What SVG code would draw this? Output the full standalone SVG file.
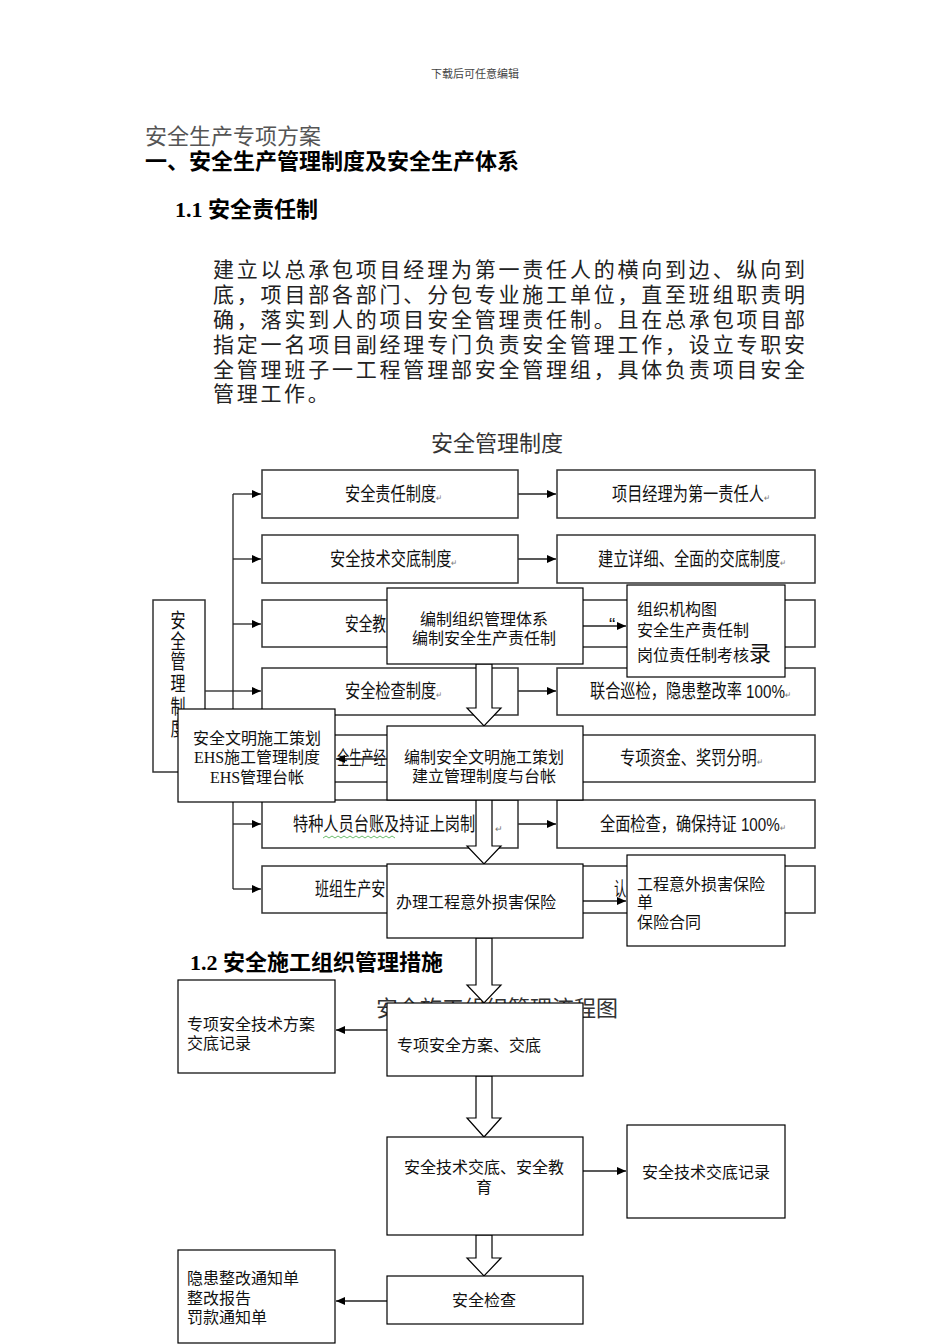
<svg xmlns="http://www.w3.org/2000/svg" width="950" height="1344" viewBox="0 0 950 1344">
<defs>
<style>
.bg{fill:#fff;stroke:#333;stroke-width:1.5}
.ov{fill:#fff;stroke:#000;stroke-width:1.2}
.ln{stroke:#222;stroke-width:1.3;fill:none}
.blk{fill:#fff;stroke:#000;stroke-width:1.2}
.cn{font-family:"Liberation Sans","Noto Sans CJK SC",sans-serif;font-size:19px;fill:#111}
.rt{font-family:"Liberation Sans",sans-serif;font-size:9px;fill:#777}
.sf{font-family:"Liberation Serif","Noto Sans CJK SC",serif;font-size:16px;fill:#111}
.hd{font-family:"Liberation Serif","Noto Sans CJK SC",serif;font-size:22px;fill:#000}
.pg{font-family:"Liberation Serif","Noto Sans CJK SC",serif;font-size:21px;fill:#222}
</style>
<marker id="ah" markerWidth="10" markerHeight="10" refX="9" refY="5" orient="auto" markerUnits="userSpaceOnUse"><path d="M0,1 L9,5 L0,9 z" fill="#000"/></marker>
</defs>
<rect width="950" height="1344" fill="#fff"/>

<g id="page-text">
<text x="475" y="78" text-anchor="middle" style="font-family:'Liberation Serif','Noto Sans CJK SC',serif;font-size:11px;fill:#444">下载后可任意编辑</text>
<text class="hd" x="145" y="144" style="fill:#555">安全生产专项方案</text>
<text class="hd" x="145" y="169" font-weight="bold">一、安全生产管理制度及安全生产体系</text>
<text class="hd" x="175" y="217" font-weight="bold">1.1 安全责任制</text>
<text class="pg" x="213" y="277" textLength="592" lengthAdjust="spacing">建立以总承包项目经理为第一责任人的横向到边、纵向到</text>
<text class="pg" x="213" y="302" textLength="592" lengthAdjust="spacing">底，项目部各部门、分包专业施工单位，直至班组职责明</text>
<text class="pg" x="213" y="327" textLength="592" lengthAdjust="spacing">确，落实到人的项目安全管理责任制。且在总承包项目部</text>
<text class="pg" x="213" y="352" textLength="592" lengthAdjust="spacing">指定一名项目副经理专门负责安全管理工作，设立专职安</text>
<text class="pg" x="213" y="377" textLength="592" lengthAdjust="spacing">全管理班子一工程管理部安全管理组，具体负责项目安全</text>
<text class="pg" x="213" y="401" letter-spacing="2.7">管理工作。</text>
<text class="hd" x="497" y="451" text-anchor="middle" style="fill:#333">安全管理制度</text>
</g>

<g id="connectors-bg">
<line class="ln" x1="233" y1="494" x2="233" y2="889"/>
<line class="ln" x1="205" y1="691" x2="233" y2="691"/>
<line class="ln" x1="233" y1="494" x2="261" y2="494" marker-end="url(#ah)"/>
<line class="ln" x1="233" y1="559" x2="261" y2="559" marker-end="url(#ah)"/>
<line class="ln" x1="233" y1="624" x2="261" y2="624" marker-end="url(#ah)"/>
<line class="ln" x1="233" y1="691" x2="261" y2="691" marker-end="url(#ah)"/>
<line class="ln" x1="233" y1="758" x2="261" y2="758" marker-end="url(#ah)"/>
<line class="ln" x1="233" y1="824" x2="261" y2="824" marker-end="url(#ah)"/>
<line class="ln" x1="233" y1="889" x2="261" y2="889" marker-end="url(#ah)"/>
<line class="ln" x1="518" y1="494" x2="556" y2="494" marker-end="url(#ah)"/>
<line class="ln" x1="518" y1="559" x2="556" y2="559" marker-end="url(#ah)"/>
<line class="ln" x1="518" y1="624" x2="556" y2="624" marker-end="url(#ah)"/>
<line class="ln" x1="518" y1="691" x2="556" y2="691" marker-end="url(#ah)"/>
<line class="ln" x1="518" y1="758" x2="556" y2="758" marker-end="url(#ah)"/>
<line class="ln" x1="518" y1="824" x2="556" y2="824" marker-end="url(#ah)"/>
<line class="ln" x1="518" y1="889" x2="556" y2="889" marker-end="url(#ah)"/>
</g>

<g id="bg-root">
<rect class="bg" x="153" y="600" width="52" height="172"/>
<g transform="translate(178,0) scale(0.75,1)">
<text class="cn" x="0" y="628" text-anchor="middle" style="font-size:20px">安</text>
<text class="cn" x="0" y="649" text-anchor="middle" style="font-size:20px">全</text>
<text class="cn" x="0" y="669" text-anchor="middle" style="font-size:20px">管</text>
<text class="cn" x="0" y="691" text-anchor="middle" style="font-size:20px">理</text>
<text class="cn" x="0" y="714" text-anchor="middle" style="font-size:20px">制</text>
<text class="cn" x="0" y="736" text-anchor="middle" style="font-size:20px">度</text>
</g>
</g>
<g id="bg-r1l"><rect class="bg" x="262" y="470" width="256" height="48"/><text class="cn" transform="translate(345,501) scale(0.8,1)">安全责任制度<tspan class="rt">↵</tspan></text></g>
<g id="bg-r1r"><rect class="bg" x="557" y="470" width="258" height="48"/><text class="cn" transform="translate(612,501) scale(0.8,1)">项目经理为第一责任人<tspan class="rt">↵</tspan></text></g>
<g id="bg-r2l"><rect class="bg" x="262" y="535" width="256" height="48"/><text class="cn" transform="translate(330,566) scale(0.8,1)">安全技术交底制度<tspan class="rt">↵</tspan></text></g>
<g id="bg-r2r"><rect class="bg" x="557" y="535" width="258" height="48"/><text class="cn" transform="translate(598,566) scale(0.8,1)">建立详细、全面的交底制度<tspan class="rt">↵</tspan></text></g>
<g id="bg-r3l"><rect class="bg" x="262" y="600" width="256" height="47"/><text class="cn" transform="translate(345,631) scale(0.72,1)">安全教</text></g>
<g id="bg-r3r"><rect class="bg" x="557" y="600" width="258" height="47"/><text class="cn" x="609" y="631">“</text></g>
<g id="bg-r4l"><rect class="bg" x="262" y="668" width="256" height="47"/><text class="cn" transform="translate(345,698) scale(0.8,1)">安全检查制度<tspan class="rt">↵</tspan></text></g>
<g id="bg-r4r"><rect class="bg" x="557" y="668" width="258" height="47"/><text class="cn" transform="translate(590,698) scale(0.8,1)">联合巡检，隐患整改率 100%<tspan class="rt">↵</tspan></text></g>
<g id="bg-r5l"><rect class="bg" x="262" y="735" width="256" height="47"/><text class="cn" transform="translate(337,765) scale(0.64,1)">全生产经</text></g>
<g id="bg-r5r"><rect class="bg" x="557" y="735" width="258" height="47"/><text class="cn" transform="translate(620,765) scale(0.8,1)">专项资金、奖罚分明<tspan class="rt">↵</tspan></text></g>
<g id="bg-r6l"><rect class="bg" x="262" y="800" width="256" height="48"/><text class="cn" transform="translate(293,831) scale(0.8,1)">特种人员台账及持证上岗制</text><text class="rt" x="495" y="832">↵</text><path d="M323,838 l3,-2 l3,2 l3,-2 l3,2 l3,-2 l3,2 l3,-2 l3,2 l3,-2 l3,2 l3,-2 l3,2 l3,-2 l3,2 l3,-2 l3,2 l3,-2 l3,2 l3,-2 l3,2 l3,-2 l3,2 l3,-2 l3,2" fill="none" stroke="#4a4" stroke-width="0.8"/></g>
<g id="bg-r6r"><rect class="bg" x="557" y="800" width="258" height="48"/><text class="cn" transform="translate(600,831) scale(0.8,1)">全面检查，确保持证 100%<tspan class="rt">↵</tspan></text></g>
<g id="bg-r7l"><rect class="bg" x="262" y="866" width="256" height="47"/><text class="cn" transform="translate(315,896) scale(0.74,1)">班组生产安</text></g>
<g id="bg-r7r"><rect class="bg" x="557" y="866" width="258" height="47"/><text class="cn" transform="translate(614,896) scale(0.65,1)">认</text></g>

<g id="section-12">
<text class="hd" x="190" y="970" font-weight="bold">1.2 安全施工组织管理措施</text>
<text class="hd" x="497" y="1016" text-anchor="middle" style="fill:#333">安全施工组织管理流程图</text>
</g>

<g id="connectors">
<line class="ln" x1="583" y1="626" x2="626" y2="626" marker-end="url(#ah)"/>
<line class="ln" x1="387" y1="759" x2="336" y2="759" marker-end="url(#ah)"/>
<line class="ln" x1="583" y1="901" x2="626" y2="901" marker-end="url(#ah)"/>
<line class="ln" x1="387" y1="1030" x2="336" y2="1030" marker-end="url(#ah)"/>
<line class="ln" x1="583" y1="1171" x2="626" y2="1171" marker-end="url(#ah)"/>
<line class="ln" x1="387" y1="1301" x2="336" y2="1301" marker-end="url(#ah)"/>
<polygon class="blk" points="476,664 492,664 492,708 501,708 484,726 467,708 476,708"/>
<polygon class="blk" points="476,800 492,800 492,846 501,846 484,864 467,846 476,846"/>
<polygon class="blk" points="476,938 492,938 492,985 501,985 484,1003 467,985 476,985"/>
<polygon class="blk" points="476,1076 492,1076 492,1118 501,1118 484,1137 467,1118 476,1118"/>
<polygon class="blk" points="476,1235 492,1235 492,1258 501,1258 484,1276 467,1258 476,1258"/>
</g>

<g id="node-a"><rect class="ov" x="387" y="588" width="196" height="76"/><text class="sf" x="484" y="625" text-anchor="middle">编制组织管理体系</text><text class="sf" x="484" y="644" text-anchor="middle">编制安全生产责任制</text></g>
<g id="node-b"><rect class="ov" x="627" y="585" width="158" height="92"/><text class="sf" x="637" y="615">组织机构图</text><text class="sf" x="637" y="636">安全生产责任制</text><text class="sf" x="637" y="661">岗位责任制考核<tspan style="font-size:22px">录</tspan></text></g>
<g id="node-c"><rect class="ov" x="387" y="726" width="196" height="74"/><text class="sf" x="484" y="763" text-anchor="middle">编制安全文明施工策划</text><text class="sf" x="484" y="782" text-anchor="middle">建立管理制度与台帐</text></g>
<g id="node-d"><rect class="ov" x="178" y="709" width="157" height="93"/><text class="sf" x="257" y="744" text-anchor="middle">安全文明施工策划</text><text class="sf" x="257" y="763" text-anchor="middle">EHS施工管理制度</text><text class="sf" x="257" y="783" text-anchor="middle">EHS管理台帐</text></g>
<g id="node-e"><rect class="ov" x="387" y="864" width="196" height="74"/><text class="sf" x="396" y="908">办理工程意外损害保险</text></g>
<g id="node-f"><rect class="ov" x="627" y="855" width="158" height="91"/><text class="sf" x="637" y="890">工程意外损害保险</text><text class="sf" x="637" y="908">单</text><text class="sf" x="637" y="928">保险合同</text></g>
<g id="node-g"><rect class="ov" x="387" y="1003" width="196" height="73"/><text class="sf" x="397" y="1051">专项安全方案、交底</text></g>
<g id="node-h"><rect class="ov" x="178" y="980" width="157" height="93"/><text class="sf" x="187" y="1030">专项安全技术方案</text><text class="sf" x="187" y="1049">交底记录</text></g>
<g id="node-i"><rect class="ov" x="387" y="1137" width="196" height="98"/><text class="sf" x="484" y="1173" text-anchor="middle">安全技术交底、安全教</text><text class="sf" x="484" y="1193" text-anchor="middle">育</text></g>
<g id="node-j"><rect class="ov" x="627" y="1125" width="158" height="93"/><text class="sf" x="706" y="1178" text-anchor="middle">安全技术交底记录</text></g>
<g id="node-k"><rect class="ov" x="387" y="1276" width="196" height="48"/><text class="sf" x="484" y="1306" text-anchor="middle">安全检查</text></g>
<g id="node-l"><rect class="ov" x="178" y="1250" width="157" height="93"/><text class="sf" x="187" y="1284">隐患整改通知单</text><text class="sf" x="187" y="1304">整改报告</text><text class="sf" x="187" y="1323">罚款通知单</text></g>
</svg>
